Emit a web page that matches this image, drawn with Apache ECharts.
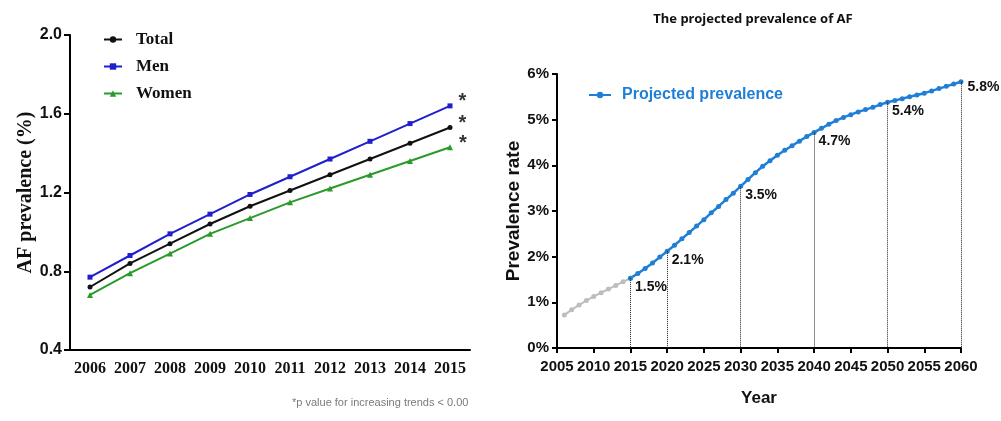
<!DOCTYPE html>
<html>
<head>
<meta charset="utf-8">
<script src="https://cdn.jsdelivr.net/npm/echarts@6/dist/echarts.min.js"></script>
<style>
  html, body { margin: 0; padding: 0; background: #ffffff; }
  #chart { width: 1001px; height: 421px; }
</style>
</head>
<body>
<div id="chart"></div>
<script>
// ---- Left panel data ----
const leftYears = ['2006','2007','2008','2009','2010','2011','2012','2013','2014','2015'];
const totalVals = [0.72, 0.84, 0.94, 1.04, 1.13, 1.21, 1.29, 1.37, 1.45, 1.53];
const menVals   = [0.77, 0.88, 0.99, 1.09, 1.19, 1.28, 1.37, 1.46, 1.55, 1.64];
const womenVals = [0.68, 0.79, 0.89, 0.99, 1.07, 1.15, 1.22, 1.29, 1.36, 1.43];
const leftYTicks = [0.4, 0.8, 1.2, 1.6, 2.0];

// ---- Right panel data ----
const observedYears = [2006, 2007, 2008, 2009, 2010, 2011, 2012, 2013, 2014, 2015];
const observedRates = [0.72, 0.84, 0.94, 1.04, 1.13, 1.21, 1.29, 1.37, 1.45, 1.53];
const projYears = [2015,2016,2017,2018,2019,2020,2021,2022,2023,2024,2025,2026,2027,2028,2029,2030,
  2031,2032,2033,2034,2035,2036,2037,2038,2039,2040,2041,2042,2043,2044,2045,2046,2047,2048,2049,2050,
  2051,2052,2053,2054,2055,2056,2057,2058,2059,2060];
const projRates = [1.53,1.63,1.74,1.86,1.99,2.12,2.25,2.39,2.53,2.67,2.81,2.96,3.10,3.25,3.39,3.54,
  3.69,3.84,3.98,4.10,4.22,4.33,4.43,4.53,4.63,4.72,4.81,4.90,4.98,5.05,5.11,5.17,5.22,5.27,5.33,5.38,
  5.42,5.46,5.50,5.54,5.58,5.63,5.68,5.73,5.78,5.83];
const annotYears = [2015, 2020, 2030, 2040, 2050, 2060];
const rightXTicks = [2005,2010,2015,2020,2025,2030,2035,2040,2045,2050,2055,2060];
const rightYTicks = [0, 1, 2, 3, 4, 5, 6];

const SERIF = "'Liberation Serif', 'Times New Roman', serif";
const SANS = "'Liberation Sans', Arial, sans-serif";
const BLUE = '#1f7fd6';

function starLast(vals) {
  return vals.map((v, i) => i === vals.length - 1
    ? { value: v, label: { show: true, formatter: '*', position: 'right', distance: 6, offset: [0, -4],
        color: '#333', fontSize: 20, fontWeight: 'bold', fontFamily: SANS } }
    : v);
}

const projData = projYears.map((y, i) => {
  const v = projRates[i];
  if (annotYears.indexOf(y) >= 0) {
    const isLast = y === 2060;
    return { value: [y, v], label: { show: true, formatter: v.toFixed(1) + '%', position: 'right',
      distance: isLast ? 4 : 2, offset: isLast ? [0, 5] : [0, 9] } };
  }
  return [y, v];
});

const dropLines = annotYears.map(y => {
  const v = projRates[projYears.indexOf(y)];
  return [{ coord: [y, v] }, { coord: [y, 0] }];
});

const chart = echarts.init(document.getElementById('chart'), null, { renderer: 'canvas' });
chart.setOption({
  backgroundColor: '#ffffff',
  animation: false,
  title: {
    text: 'The projected prevalence of AF',
    left: 748, top: 8, textAlign: 'center',
    textStyle: { fontFamily: "'Noto Sans', sans-serif", fontSize: 13, fontWeight: 'bold', color: '#111' }
  },
  legend: [
    {
      data: ['Total', 'Men', 'Women'],
      orient: 'vertical', left: 98, top: 26,
      itemWidth: 18, itemHeight: 8, itemGap: 10,
      textStyle: { fontFamily: SERIF, fontSize: 17, fontWeight: 'bold', color: '#111', lineHeight: 17, padding: [0, 0, 0, 9] }
    },
    {
      data: ['Projected prevalence'],
      left: 583, top: 82,
      itemWidth: 22, itemHeight: 8,
      textStyle: { fontFamily: SANS, fontSize: 16, fontWeight: 'bold', color: BLUE, padding: [0, 0, 0, 6] }
    }
  ],
  grid: [
    { left: 70, right: 531, top: 35, bottom: 71 },
    { left: 557, right: 40, top: 74, bottom: 73 }
  ],
  xAxis: [
    {
      type: 'category', gridIndex: 0, data: leftYears, boundaryGap: true,
      axisLine: { lineStyle: { color: '#000', width: 2 } },
      axisTick: { alignWithLabel: true, interval: 0, length: 6, lineStyle: { color: '#000', width: 2 } },
      axisLabel: { interval: 0, color: '#111', fontFamily: SERIF, fontSize: 16, fontWeight: 'bold', margin: 11 }
    },
    {
      type: 'value', gridIndex: 1, min: rightXTicks[0], max: rightXTicks[rightXTicks.length - 1], interval: 5,
      splitLine: { show: false },
      axisLine: { onZero: false, lineStyle: { color: '#000', width: 2 } },
      axisTick: { length: 5, lineStyle: { color: '#000', width: 2 } },
      axisLabel: { color: '#111', fontFamily: SANS, fontSize: 15, fontWeight: 'bold', margin: 11,
        showMinLabel: true, showMaxLabel: true, hideOverlap: false, formatter: v => String(v) },
      name: 'Year', nameLocation: 'middle', nameGap: 42,
      nameTextStyle: { color: '#111', fontFamily: SANS, fontSize: 17, fontWeight: 'bold' }
    }
  ],
  yAxis: [
    {
      type: 'value', gridIndex: 0, min: leftYTicks[0], max: leftYTicks[leftYTicks.length - 1], interval: 0.4,
      splitLine: { show: false },
      axisLine: { show: true, lineStyle: { color: '#000', width: 2 } },
      axisTick: { show: true, length: 6, lineStyle: { color: '#000', width: 2 } },
      axisLabel: { color: '#111', fontFamily: SANS, fontSize: 16, fontWeight: 'bold', margin: 8,
        formatter: v => v.toFixed(1) },
      name: 'AF prevalence (%)', nameLocation: 'middle', nameGap: 34, nameRotate: 90,
      nameTextStyle: { color: '#111', fontFamily: SERIF, fontSize: 20, fontWeight: 'bold' }
    },
    {
      type: 'value', gridIndex: 1, min: rightYTicks[0], max: rightYTicks[rightYTicks.length - 1], interval: 1,
      splitLine: { show: false },
      axisLine: { show: true, lineStyle: { color: '#000', width: 2 } },
      axisTick: { show: true, length: 5, lineStyle: { color: '#000', width: 2 } },
      axisLabel: { color: '#111', fontFamily: SANS, fontSize: 15, fontWeight: 'bold', margin: 8,
        formatter: '{value}%' },
      name: 'Prevalence rate', nameLocation: 'middle', nameGap: 26, nameRotate: 90,
      nameTextStyle: { color: '#111', fontFamily: SANS, fontSize: 19, fontWeight: 'bold' }
    }
  ],
  series: [
    {
      name: 'Total', type: 'line', xAxisIndex: 0, yAxisIndex: 0, data: starLast(totalVals),
      symbol: 'circle', symbolSize: 5, color: '#111111',
      lineStyle: { width: 2, color: '#111111' }, itemStyle: { color: '#111111' }
    },
    {
      name: 'Men', type: 'line', xAxisIndex: 0, yAxisIndex: 0, data: starLast(menVals),
      symbol: 'rect', symbolSize: 5, color: '#1f1fcc',
      lineStyle: { width: 2, color: '#1f1fcc' }, itemStyle: { color: '#1f1fcc' }
    },
    {
      name: 'Women', type: 'line', xAxisIndex: 0, yAxisIndex: 0, data: starLast(womenVals),
      symbol: 'triangle', symbolSize: 6, color: '#2a9a2a',
      lineStyle: { width: 2, color: '#2a9a2a' }, itemStyle: { color: '#2a9a2a' }
    },
    {
      name: 'Observed', type: 'line', xAxisIndex: 1, yAxisIndex: 1,
      data: observedYears.map((y, i) => [y, observedRates[i]]),
      symbol: 'circle', symbolSize: 5, color: '#bdbdbd',
      lineStyle: { width: 2, color: '#bdbdbd' }, itemStyle: { color: '#bdbdbd' }
    },
    {
      name: 'Projected prevalence', type: 'line', xAxisIndex: 1, yAxisIndex: 1,
      data: projData, z: 3,
      symbol: 'circle', symbolSize: 5, color: BLUE,
      lineStyle: { width: 2.5, color: BLUE }, itemStyle: { color: BLUE },
      label: { color: '#111', fontFamily: SANS, fontSize: 14, fontWeight: 'bold' },
      markLine: {
        silent: true, symbol: ['none', 'none'], label: { show: false },
        lineStyle: { type: 'dotted', color: '#222', width: 1 },
        data: dropLines
      }
    }
  ],
  graphic: [
    {
      type: 'text', left: 292, top: 397,
      style: { text: '*p value for increasing trends < 0.00', fill: '#7a7a7a',
        font: "11px 'Liberation Sans', Arial, sans-serif" }
    }
  ]
});
</script>
</body>
</html>
